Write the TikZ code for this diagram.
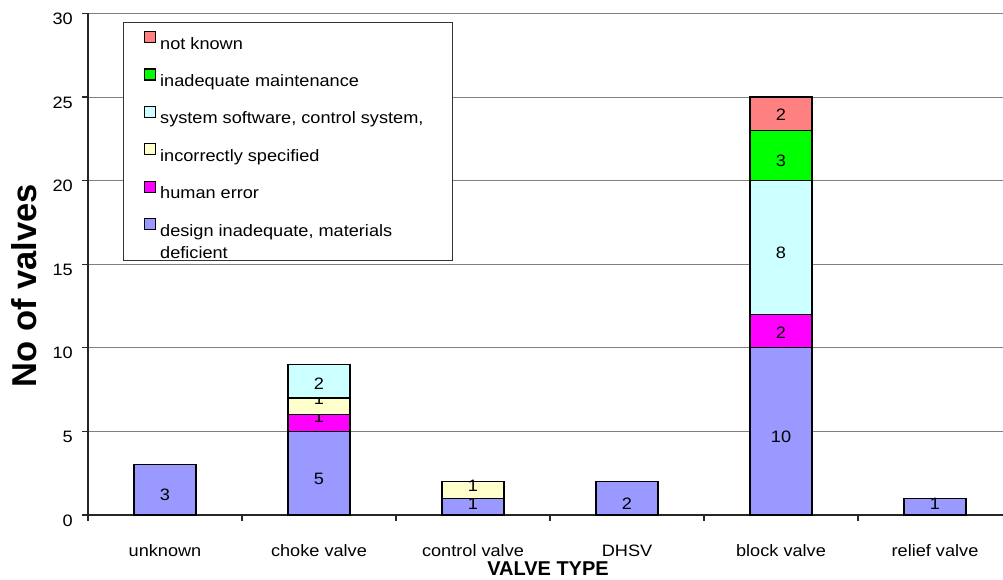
\documentclass[tikz,border=0pt]{standalone}
\usepackage{fontspec}
\setmainfont{Liberation Sans}[FakeStretch=1.1]
\newfontfamily\titlefont{Liberation Sans}

\definecolor{cdesign}{HTML}{9999FF}
\definecolor{chuman}{HTML}{FF00FF}
\definecolor{cspec}{HTML}{FFFFCC}
\definecolor{csoft}{HTML}{CCFFFF}
\definecolor{cmaint}{HTML}{00FF00}
\definecolor{cunknown}{HTML}{FF8080}

% value -> vertical page position (y grows downwards)
\newcommand{\vy}[1]{(515-16.72*(#1))}

% one stacked segment: name, centre x, low, high, colour, label, label shift
\newcommand{\stackseg}[7]{%
  \draw[segbox, fill=#5] ({#2-31},{\vy{#3}}) rectangle ({#2+31},{\vy{#4}});
  \node[val] (#1) at (#2,{(\vy{#3}+\vy{#4})/2+#7}) {#6};}

\begin{document}
\begin{tikzpicture}[x=1pt,y=-1pt,
  gridline/.style={draw=black!50, line width=1pt},
  axisline/.style={draw=black!85, line width=1.2pt},
  segbox/.style={draw=black, line width=1.2pt},
  val/.style={font=\fontsize{16.5}{18}\selectfont, inner sep=0pt},
  ticklabel/.style={font=\fontsize{16.5}{18}\selectfont, inner sep=0pt, anchor=east},
  catlabel/.style={font=\fontsize{16.5}{18}\selectfont, inner sep=0pt, anchor=base},
  legtext/.style={font=\fontsize{16.5}{18}\selectfont, inner sep=0pt, anchor=base west, align=left},
  swatch/.style={draw=black, line width=1.1pt, minimum size=11pt, inner sep=0pt, anchor=north west},
  legframe/.style={draw=black!80, fill=white, line width=1pt}]

\useasboundingbox (0,0) rectangle (1003,579);
\clip (0,0) rectangle (1003,579);

% horizontal grid
\foreach \v in {5,10,...,30}
  \draw[gridline] (88,{\vy{\v}}) -- (1003,{\vy{\v}});

% axes, ticks and tick labels
\draw[axisline] (88,{\vy{30}}) -- (88,{\vy{0}}) -- (1003,{\vy{0}});
\foreach \v in {0,5,...,30} {
  \draw[axisline] (82,{\vy{\v}}) -- (88,{\vy{\v}});
  \node[ticklabel] (ytick\v) at (73,{\vy{\v}+5.5}) {\v};
}
\foreach \i in {0,...,5}
  \draw[axisline] ({88+154*\i},{\vy{0}}) -- ++(0,6);

% category names
\foreach \i/\name in {0/unknown,1/choke valve,2/control valve,3/DHSV,4/block valve,5/relief valve}
  \node[catlabel] (cat\i) at ({165+154*\i},556) {\name};

% legend
\draw[legframe] (123,22) rectangle (452,260);
\foreach \k/\col/\txt in {0/cunknown/not known,1/cmaint/inadequate maintenance,
    2/csoft/{system software, control system,},3/cspec/incorrectly specified,
    4/chuman/human error,5/cdesign/{design inadequate, materials}} {
  \node[swatch, fill=\col] (sw\k) at (143.5,{49+37.4*\k-18}) {};
  \node[legtext] (leg\k) at (160,{49+37.4*\k}) {\txt};
}
\node[legtext] (leg5b) at (160,258) {deficient};

% bars
\stackseg{u1}{165}{0}{3}{cdesign}{3}{5}

\stackseg{c1}{319}{0}{5}{cdesign}{5}{6}
\stackseg{c2}{319}{5}{6}{chuman}{1}{-6.5}
\stackseg{c3}{319}{6}{7}{cspec}{1}{-8}
\stackseg{c4}{319}{7}{9}{csoft}{2}{2}

\stackseg{k1}{473}{0}{1}{cdesign}{1}{-3}
\stackseg{k2}{473}{1}{2}{cspec}{1}{-4}

\stackseg{d1}{627}{0}{2}{cdesign}{2}{5}

\stackseg{b1}{781}{0}{10}{cdesign}{10}{5}
\stackseg{b2}{781}{10}{12}{chuman}{2}{2}
\stackseg{b3}{781}{12}{20}{csoft}{8}{5.5}
\stackseg{b4}{781}{20}{23}{cmaint}{3}{5}
\stackseg{b5}{781}{23}{25}{cunknown}{2}{1.5}

\stackseg{r1}{935}{0}{1}{cdesign}{1}{-3}

% axis titles
\node[rotate=90, inner sep=0pt, font=\titlefont\bfseries\fontsize{34.5}{40}\selectfont] (ytitle) at (24.5,285.5) {No of valves};
\node[anchor=base, inner sep=0pt, font=\titlefont\bfseries\fontsize{20}{24}\selectfont] (xtitle) at (548,575.5) {VALVE TYPE};
\end{tikzpicture}
\end{document}
